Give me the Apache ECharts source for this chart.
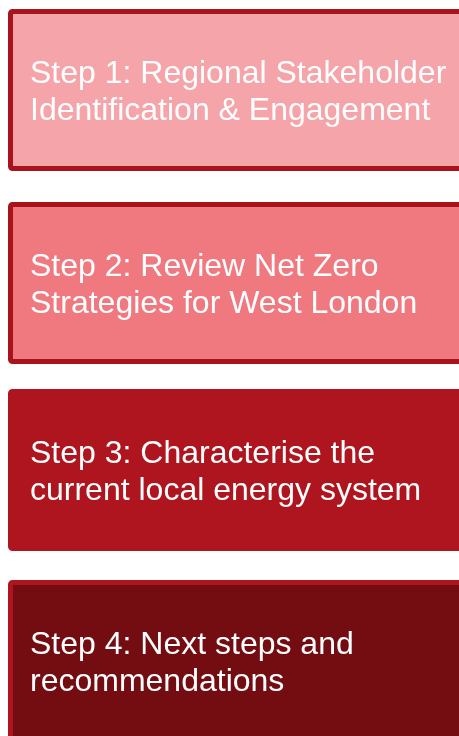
<!DOCTYPE html>
<html>
<head>
<meta charset="utf-8">
<script src="https://cdn.jsdelivr.net/npm/echarts@6/dist/echarts.min.js"></script>
<style>
html,body{margin:0;padding:0;background:#fff;}
#chart{width:459px;height:736px;}
</style>
</head>
<body>
<div id="chart"></div>
<script>
// Data
const stepTitles = [
  "Step 1: Regional Stakeholder\nIdentification & Engagement",
  "Step 2: Review Net Zero\nStrategies for West London",
  "Step 3: Characterise the\ncurrent local energy system",
  "Step 4: Next steps and\nrecommendations"
];
// Styles (kept separate from data)
const fillColors = ["#F5A4AA", "#F07980", "#AF151E", "#740D12"];
const borderColors = ["#A8131C", "#A8131C", "#AF151E", "#AF151E"];
const boxTops = [9, 202, 389, 580];
const boxHeight = 162;
const borderW = 5;

const chart = echarts.init(document.getElementById('chart'), null, {renderer: 'canvas'});
const graphics = [];
stepTitles.forEach((t, i) => {
  const top = boxTops[i];
  graphics.push({
    type: 'rect',
    shape: {x: 8 + borderW / 2, y: top + borderW / 2, width: 480, height: boxHeight - borderW, r: 2},
    style: {fill: fillColors[i], stroke: borderColors[i], lineWidth: borderW}
  });
  graphics.push({
    type: 'text',
    x: 30,
    y: top + boxHeight / 2 + 2.5,
    style: {
      text: t,
      fill: '#ffffff',
      font: '32px "Liberation Sans", Arial, sans-serif',
      lineHeight: 37,
      verticalAlign: 'middle',
      align: 'left'
    }
  });
});
chart.setOption({
  animation: false,
  graphic: graphics
});
</script>
</body>
</html>
